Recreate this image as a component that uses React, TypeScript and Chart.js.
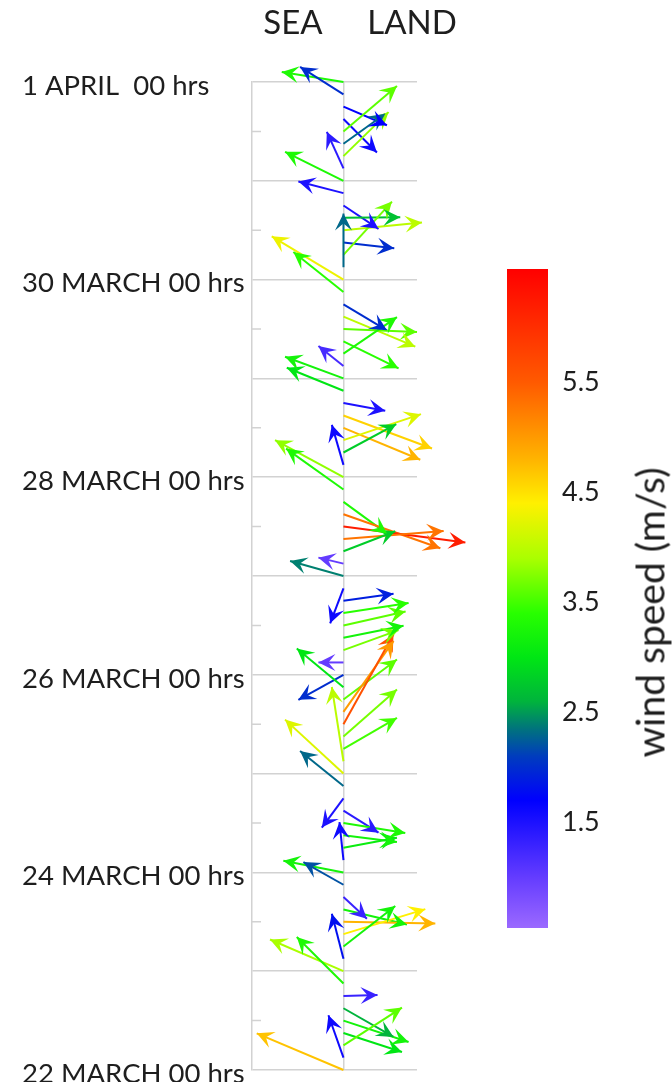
import React, { useEffect, useRef } from "react";
import { Chart, registerables } from "chart.js";

Chart.register(...registerables);

const FONT = "Lato, 'Open Sans', sans-serif";
const TEXT = "#1e1e1e";
const GRID = "#d2d2d2";

// hours after 22 MARCH 00 hrs, one arrow every 3 hours
const arrowHours = [
  0, 3, 6, 9, 12, 15, 18, 21, 24, 27, 30, 33, 36, 39, 42, 45, 48, 51, 54, 57,
  60, 63, 66, 69, 72, 75, 78, 81, 84, 87, 90, 93, 96, 99, 102, 105, 108, 111, 114, 117,
  120, 123, 126, 129, 132, 135, 138, 141, 144, 147, 150, 153, 156, 159, 162, 165, 168, 171, 174, 177,
  180, 183, 186, 189, 192, 195, 198, 201, 204, 207, 210, 213, 216, 219, 222, 225, 228, 231, 234, 237,
  240,
];
// arrow components (east = +, north = +), plot units
const arrowU = [
  -86.6, -15, 58.4, 58.4, 65, 50, 34, -46.6, -73.3, -11.6,
  51.7, 81.7, 91.7, 63.4, 23.4, -40, -60, -4, 53.4, 53.4,
  61.7, 35, -21.6, -43.3, -58.3, -11.6, 53.4, 53.4, 50, 50,
  53.4, -46.6, -45, -25, 55, 60, 62, 65, 50, -13.3,
  -53.3, -25, 51.7, 100, 121.7, 96.7, 43.4, -57.3, -68.3, -11.6,
  52.7, 77.4, 76.7, 88.4, 41.7, -56.6, -58.3, -25, 53.4, 55,
  73.4, 71.7, 43.4, -50, -71.6, 0, 48.4, 50.7, 78.4, 56.7,
  35, -45, -58.3, -16.6, 45, 41.7, 53.4, 33.4, 43.4, -43.3,
  -61.6,
];
const arrowV = [
  36.7, 42.4, 37.7, -19, -21.4, -28.7, 1, 46.6, 31.7, 45,
  40.6, 25, -1.6, -15, -21.7, 22.7, 11.6, 38, 10, -6.7,
  -10, -22, -29.3, 35, 54, 74.3, 31, 47, 90, 71,
  40, 38.6, -25, 0, 20, 12, 14, 10, 7, -35,
  15, 6, 20, 8, -16, -34, -31.7, 41, 37, 40,
  28.3, 26, -32, -33, -7.7, 23, 21.6, 20, 36.6, -27,
  -3, -30, -26, 40, 43.3, 53.7, 53.3, -5.6, 7.7, 0.6,
  -23.3, 11.6, 29, 36.6, 44, 30, 45.4, -33.4, -18.6, 27.4,
  10,
];
// wind speed (m/s)
const arrowSpeed = [
  4.7, 1.6, 3.6, 3.0, 3.2, 2.6, 1.3, 3.3, 3.9, 1.8,
  3.2, 4.4, 4.8, 3.2, 1.3, 2.2, 3.2, 1.6, 3.1, 3.2,
  3.3, 1.4, 1.5, 2.3, 4.2, 4.0, 3.5, 3.7, 5.6, 5.0,
  3.6, 3.0, 2.0, 1.0, 3.7, 3.2, 3.6, 3.4, 1.9, 1.6,
  2.4, 1.0, 2.8, 5.3, 6.2, 5.3, 3.3, 3.3, 3.8, 1.6,
  2.8, 4.2, 4.8, 4.6, 1.5, 3.0, 3.2, 1.2, 3.3, 3.4,
  3.6, 4.0, 2.0, 3.4, 4.3, 2.3, 3.7, 2.0, 4.0, 2.7,
  1.5, 1.5, 3.3, 1.4, 3.8, 2.3, 3.6, 1.6, 1.7, 2.0,
  3.3,
];

const tickHours = [0, 48, 96, 144, 192, 240];
const tickLabels = [
  "22 MARCH 00 hrs",
  "24 MARCH 00 hrs",
  "26 MARCH 00 hrs",
  "28 MARCH 00 hrs",
  "30 MARCH 00 hrs",
  "1 APRIL  00 hrs",
];

// colour map
const cmapValues = [0.54, 1.0, 1.7, 2.1, 2.35, 2.6, 3.0, 3.4, 3.9, 4.4, 4.8, 5.5, 6.53];
const cmapColors = [
  "#9b69ff", "#643cff", "#0000ff", "#003cbe", "#00737d", "#00b43c", "#00e614",
  "#28ff00", "#aaff00", "#fff000", "#ffb400", "#ff5a00", "#ff0000",
];
const colorbarTicks = [1.5, 2.5, 3.5, 4.5, 5.5];

// time axis hours per plot unit of arrow length
const HOURS_PER_UNIT = 240 / 988.3;

function hexToRgb(h: string) {
  return [parseInt(h.slice(1, 3), 16), parseInt(h.slice(3, 5), 16), parseInt(h.slice(5, 7), 16)];
}
function speedColor(s: number) {
  const n = cmapValues.length;
  if (s <= cmapValues[0]) return cmapColors[0];
  if (s >= cmapValues[n - 1]) return cmapColors[n - 1];
  for (let i = 0; i < n - 1; i++) {
    if (s >= cmapValues[i] && s <= cmapValues[i + 1]) {
      const f = (s - cmapValues[i]) / (cmapValues[i + 1] - cmapValues[i]);
      const a = hexToRgb(cmapColors[i]);
      const b = hexToRgb(cmapColors[i + 1]);
      const c = a.map((v, j) => Math.round(v + (b[j] - v) * f));
      return `rgb(${c[0]},${c[1]},${c[2]})`;
    }
  }
  return cmapColors[n - 1];
}

const midTicks = {
  id: "midTicks",
  beforeDatasetsDraw(chart: any) {
    const ys = chart.scales.y;
    const left = chart.chartArea.left;
    const ctx = chart.ctx;
    ctx.save();
    ctx.strokeStyle = GRID;
    ctx.lineWidth = 1.5;
    ctx.beginPath();
    ys.ticks.forEach((t: any) => {
      if (t.value % 24 === 12) {
        const py = ys.getPixelForValue(t.value);
        ctx.moveTo(left, py);
        ctx.lineTo(left + 9, py);
      }
    });
    ctx.stroke();
    ctx.restore();
  },
};

const arrowHeads = {
  id: "arrowHeads",
  afterDatasetsDraw(chart: any) {
    const ctx = chart.ctx;
    chart.data.datasets.forEach((ds: any, i: number) => {
      const meta = chart.getDatasetMeta(i);
      const p0 = meta.data[0];
      const p1 = meta.data[1];
      if (!p0 || !p1) return;
      const ang = Math.atan2(p1.y - p0.y, p1.x - p0.x);
      const L = 17;
      const W = 8.5;
      const N = 10;
      ctx.save();
      ctx.translate(p1.x, p1.y);
      ctx.rotate(ang);
      ctx.beginPath();
      ctx.moveTo(0, 0);
      ctx.lineTo(-L, -W);
      ctx.lineTo(-N, 0);
      ctx.lineTo(-L, W);
      ctx.closePath();
      ctx.fillStyle = ds.borderColor;
      ctx.fill();
      ctx.restore();
    });
  },
};

export default function App() {
  const mainRef = useRef<HTMLCanvasElement>(null);
  const barRef = useRef<HTMLCanvasElement>(null);

  useEffect(() => {
    const datasets = arrowHours.map((t, i) => ({
      data: [
        { x: 0, y: t },
        { x: arrowU[i], y: t + arrowV[i] * HOURS_PER_UNIT },
      ],
      showLine: true,
      borderColor: speedColor(arrowSpeed[i]),
      borderWidth: 2,
      pointRadius: 0,
      clip: false as any,
      tension: 0,
    }));

    const main = new Chart(mainRef.current!, {
      type: "scatter",
      data: { datasets },
      options: {
        animation: false,
        responsive: false,
        events: [],
        layout: { padding: { top: 82, bottom: 12, left: 22, right: 63 } },
        plugins: { legend: { display: false }, tooltip: { enabled: false } },
        scales: {
          x: {
            type: "linear",
            min: -91.3,
            max: 73.4,
            ticks: { display: false },
            grid: { color: GRID, lineWidth: 1.5, drawTicks: false },
            border: { display: false },
            afterBuildTicks: (a: any) => {
              a.ticks = [{ value: 0 }];
            },
            afterFit: (a: any) => {
              a.height = 0;
              a.paddingLeft = 0;
              a.paddingRight = 0;
            },
          },
          y: {
            type: "linear",
            min: 0,
            max: 240,
            ticks: {
              stepSize: 12,
              autoSkip: false,
              crossAlign: "far",
              labelOffset: 4,
              color: TEXT,
              font: { family: FONT, size: 27.5 },
              callback: (v: any) => {
                const i = tickHours.indexOf(Number(v));
                return i >= 0 ? tickLabels[i] : "";
              },
            },
            grid: {
              drawTicks: false,
              lineWidth: 1.5,
              color: (c: any) =>
                c.tick && c.tick.value % 24 === 0 ? GRID : "rgba(0,0,0,0)",
            },
            border: { display: true, color: GRID, width: 1.5 },
            afterFit: (a: any) => {
              a.width = 230;
              a.paddingTop = 0;
              a.paddingBottom = 0;
            },
          },
        },
      },
      plugins: [midTicks, arrowHeads],
    } as any);

    const v0 = cmapValues[0];
    const vN = cmapValues[cmapValues.length - 1];
    const bar = new Chart(barRef.current!, {
      type: "bar",
      data: {
        labels: [""],
        datasets: [
          {
            data: [[v0, vN]],
            borderWidth: 0,
            barPercentage: 1,
            categoryPercentage: 1,
            backgroundColor: (c: any) => {
              const ch = c.chart;
              if (!ch.chartArea) return "rgba(0,0,0,0)";
              const ys = ch.scales.y;
              const g = ch.ctx.createLinearGradient(0, ys.getPixelForValue(v0), 0, ys.getPixelForValue(vN));
              cmapValues.forEach((v, i) => g.addColorStop((v - v0) / (vN - v0), cmapColors[i]));
              return g;
            },
          },
        ],
      },
      options: {
        animation: false,
        responsive: false,
        events: [],
        layout: { padding: { top: 20, bottom: 21, left: 0, right: 0 } },
        plugins: { legend: { display: false }, tooltip: { enabled: false } },
        scales: {
          x: { display: false },
          y: {
            position: "right",
            min: v0,
            max: vN,
            grid: { display: false, drawTicks: false },
            border: { display: false },
            afterBuildTicks: (a: any) => {
              a.ticks = colorbarTicks.map((v) => ({ value: v }));
            },
            ticks: {
              padding: 14,
              color: TEXT,
              font: { family: FONT, size: 27 },
              callback: (v: any) => Number(v).toFixed(1),
            },
            afterFit: (a: any) => {
              a.width = 124;
              a.paddingTop = 0;
              a.paddingBottom = 0;
            },
          },
        },
      },
    } as any);

    return () => {
      main.destroy();
      bar.destroy();
    };
  }, []);

  return (
    <div
      style={{
        position: "absolute",
        left: 0,
        top: 0,
        width: 672,
        height: 1082,
        background: "#fff",
        fontFamily: FONT,
        color: TEXT,
        overflow: "hidden",
      }}
    >
      <canvas ref={mainRef} width={480} height={1082} style={{ position: "absolute", left: 0, top: 0 }} />
      <canvas ref={barRef} width={165} height={700} style={{ position: "absolute", left: 507, top: 249 }} />
      <div style={{ position: "absolute", left: 243, top: 5, width: 100, textAlign: "center", fontSize: 33, lineHeight: "33px" }}>
        SEA
      </div>
      <div style={{ position: "absolute", left: 362, top: 5, width: 100, textAlign: "center", fontSize: 33, lineHeight: "33px" }}>
        LAND
      </div>
      <div
        style={{
          position: "absolute",
          left: 450,
          top: 612 - 19.5,
          width: 400,
          textAlign: "center",
          fontSize: 39,
          lineHeight: "39px",
          transform: "rotate(-90deg)",
          transformOrigin: "50% 50%",
          whiteSpace: "nowrap",
        }}
      >
        wind speed (m/s)
      </div>
    </div>
  );
}
